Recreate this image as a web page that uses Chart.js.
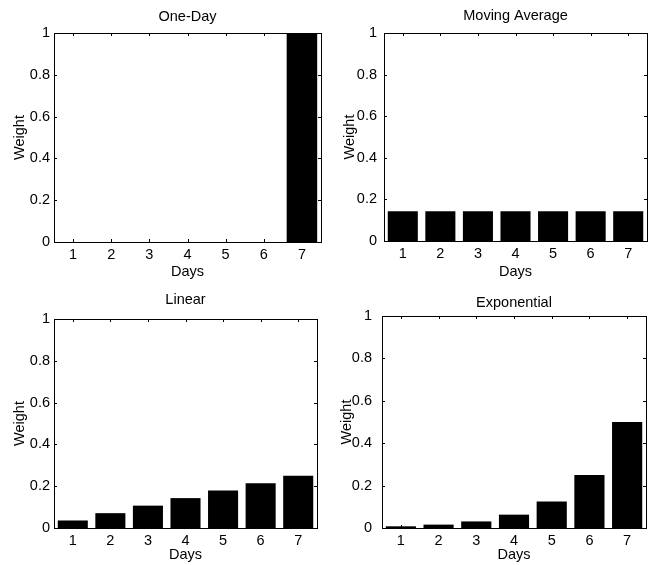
<!DOCTYPE html>
<html>
<head>
<meta charset="utf-8">
<script src="https://cdn.jsdelivr.net/npm/chart.js@4.4.1/dist/chart.umd.min.js"></script>
<style>
  body { margin: 0; background: #fff; }
  #wrap { position: relative; width: 652px; height: 565px; overflow: hidden; }
  .pane { position: absolute; }
</style>
</head>
<body>
<div id="wrap"></div>
<script>
// data
const days = ["1", "2", "3", "4", "5", "6", "7"];
const yTicks = [0, 0.2, 0.4, 0.6, 0.8, 1];

const oneDay      = [0, 0, 0, 0, 0, 0, 1];
const movingAvg   = [0.143, 0.143, 0.143, 0.143, 0.143, 0.143, 0.143];
const linear      = [0.036, 0.071, 0.107, 0.143, 0.179, 0.214, 0.25];
const exponential = [0.008, 0.016, 0.031, 0.063, 0.125, 0.25, 0.5];

const titles = ["One-Day", "Moving Average", "Linear", "Exponential"];
const series = [oneDay, movingAvg, linear, exponential];

// panel placement (canvas box + plot box inside it)
const panes = [
  { left: 0,   top: 0,   w: 326, h: 282, pl: 54, pr: 321, pt: 33, pb: 242, ty: 17, wx: 20, tp: 4 },
  { left: 326, top: 0,   w: 326, h: 282, pl: 58, pr: 321, pt: 33, pb: 241, ty: 16, wx: 24, tp: 7 },
  { left: 0,   top: 282, w: 326, h: 283, pl: 54, pr: 317, pt: 37, pb: 246, ty: 18, wx: 20, tp: 4 },
  { left: 326, top: 282, w: 326, h: 283, pl: 56, pr: 320, pt: 34, pb: 246, ty: 21, wx: 21, tp: 10 }
];

const FONT = "'Liberation Sans', Arial, Helvetica, sans-serif";
const FS = 14.5;
Chart.defaults.font.family = FONT;
Chart.defaults.color = "#000";

// matlab style box with inward ticks + centered title
const boxPlugin = {
  id: "box",
  afterDatasetsDraw(chart, args, opts) {
    const { ctx, chartArea: a, scales: { x, y } } = chart;
    const t = 3;
    ctx.save();
    ctx.strokeStyle = "#000";
    ctx.lineWidth = 1;
    ctx.beginPath();
    days.forEach((d, i) => {
      const px = Math.round(x.getPixelForValue(i)) + 0.5;
      ctx.moveTo(px, a.bottom); ctx.lineTo(px, a.bottom - t);
      ctx.moveTo(px, a.top); ctx.lineTo(px, a.top + t);
    });
    yTicks.forEach(v => {
      const py = Math.round(y.getPixelForValue(v)) + 0.5;
      ctx.moveTo(a.left, py); ctx.lineTo(a.left + t, py);
      ctx.moveTo(a.right, py); ctx.lineTo(a.right - t, py);
    });
    ctx.stroke();
    ctx.strokeRect(Math.round(a.left) + 0.5, Math.round(a.top) + 0.5,
                   Math.round(a.right - a.left), Math.round(a.bottom - a.top));
    ctx.fillStyle = "#000";
    ctx.font = FS + "px " + FONT;
    ctx.textAlign = "center";
    ctx.textBaseline = "middle";
    ctx.fillText(opts.text, (a.left + a.right) / 2, opts.ty);
    ctx.restore();
  }
};

const wrap = document.getElementById("wrap");

panes.forEach((p, k) => {
  const div = document.createElement("div");
  div.className = "pane";
  div.style.left = p.left + "px";
  div.style.top = p.top + "px";
  div.style.width = p.w + "px";
  div.style.height = p.h + "px";
  const cv = document.createElement("canvas");
  div.appendChild(cv);
  wrap.appendChild(div);

  new Chart(cv, {
    type: "bar",
    data: {
      labels: days,
      datasets: [{
        data: series[k],
        backgroundColor: "#000",
        borderWidth: 0,
        barPercentage: 0.8,
        categoryPercentage: 1
      }]
    },
    options: {
      responsive: true,
      maintainAspectRatio: false,
      animation: false,
      layout: { padding: { left: 0, right: p.w - p.pr, top: p.pt, bottom: 0 } },
      plugins: {
        legend: { display: false },
        tooltip: { enabled: false },
        box: { text: titles[k], ty: p.ty }
      },
      scales: {
        x: {
          offset: true,
          grid: { display: false, drawTicks: false },
          border: { display: false },
          ticks: { font: { size: FS }, padding: 4, maxRotation: 0 },
          title: { display: true, text: "Days", font: { size: FS }, padding: { top: 0, bottom: 1 } },
          afterFit: s => { s.height = p.h - p.pb; }
        },
        y: {
          min: 0,
          max: 1,
          grid: { display: false, drawTicks: false },
          border: { display: false },
          afterBuildTicks: s => { s.ticks = yTicks.map(v => ({ value: v })); },
          ticks: {
            font: { size: FS },
            padding: p.tp,
            callback: v => String(+v.toFixed(1))
          },
          title: { display: true, text: "Weight", font: { size: FS }, padding: { top: p.wx - 8.7, bottom: 0 } },
          afterFit: s => { s.width = p.pl; }
        }
      }
    },
    plugins: [boxPlugin]
  });
});
</script>
</body>
</html>
